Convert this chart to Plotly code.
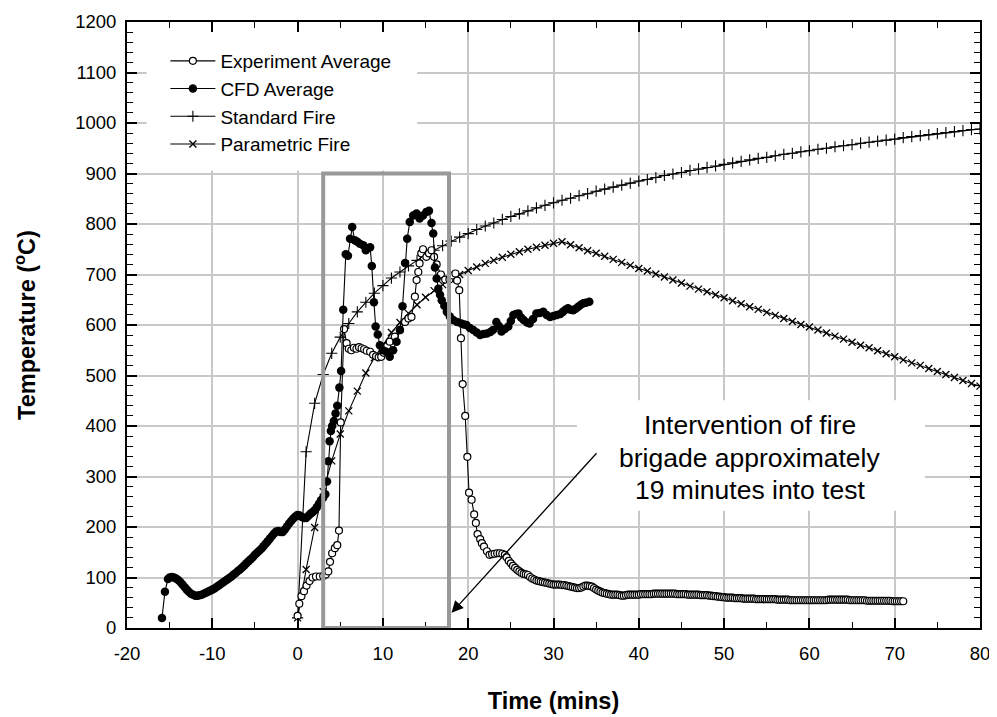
import plotly.graph_objects as go

# ---------------- data ----------------
std_time = list(range(0, 81))
std_temp = [20, 349, 445, 502, 544, 576, 603, 626, 645, 663, 678, 693, 705, 717, 728, 739,
            748, 757, 766, 774, 781, 789, 796, 802, 809, 815, 820, 826, 832, 837, 842, 847,
            851, 856, 860, 865, 869, 873, 877, 881, 885, 888, 892, 896, 899, 902, 906, 909,
            912, 915, 918, 921, 924, 927, 930, 932, 935, 938, 940, 943, 945, 948, 950, 953,
            955, 957, 960, 962, 964, 966, 968, 971, 973, 975, 977, 979, 981, 983, 985, 987, 988]

par_time = list(range(0, 81))
par_temp = [20, 116, 199, 270, 331, 384, 430, 469, 505, 535, 561, 585, 605, 623, 640, 655,
            668, 680, 691, 700, 708, 715, 722, 728, 734, 740, 745, 750, 754, 758, 762, 765,
            759, 753, 747, 742, 736, 730, 724, 718, 712, 707, 701, 695, 689, 683, 677, 671,
            666, 660, 654, 648, 642, 636, 631, 625, 619, 613, 607, 601, 596, 590, 584, 578,
            572, 566, 560, 555, 549, 543, 537, 531, 525, 520, 514, 508, 502, 496, 490, 484, 479]

# CFD: first three readings, then one every quarter minute from -15 to 3 min, then the fire phase
cfd_temp_start = [20, 72, 97]
cfd_time_start = [-15.9, -15.55, -15.2]
cfd_temp_pre = [100, 101, 100, 98, 95, 91, 86, 81,
                76, 72, 68, 66, 64, 64, 65, 66,
                68, 70, 72, 74, 76, 78, 81, 84,
                87, 90, 93, 96, 99, 102, 106, 109,
                113, 116, 120, 124, 128, 132, 136, 140,
                145, 149, 153, 157, 162, 167, 172, 177,
                182, 187, 191, 192, 190, 190, 195, 201,
                207, 212, 217, 221, 224, 223, 220, 218,
                218, 222, 226, 229, 233, 239, 246, 253,
                258]
cfd_time_pre = [-15.0 + 0.25 * i for i in range(len(cfd_temp_pre))]
cfd_time_fire = [3.25, 3.45, 3.6, 3.75, 3.9, 4.05, 4.25, 4.45, 4.65, 4.9,
                 5.1, 5.35, 5.65, 5.9, 6.15, 6.4, 6.7, 7.0, 7.3, 7.7, 8.0, 8.2, 8.5, 8.7, 8.95, 9.15,
                 9.4, 9.65, 10.0, 10.4, 10.8, 11.2, 11.6, 12.0, 12.3, 12.6, 12.85, 13.15, 13.55, 13.95,
                 14.3, 14.7, 15.1, 15.4, 15.7, 15.9, 16.1, 16.3, 16.5, 16.7, 16.9, 17.2, 17.5, 17.85,
                 18.25, 18.7, 19.2, 19.5, 19.8, 20.2, 20.6, 21.0, 21.4, 21.8, 22.2, 22.6, 22.9, 23.3,
                 23.6, 23.9, 24.3, 24.7, 25.0, 25.3, 25.6, 25.9, 26.2, 26.5, 26.9, 27.2, 27.6, 28.0,
                 28.4, 28.8, 29.2, 29.6, 30.0, 30.4, 30.8, 31.1, 31.4, 31.7, 32.0, 32.3, 32.6, 32.9,
                 33.2, 33.5, 33.8, 34.2]
cfd_temp_fire = [265, 290, 330, 370, 390, 400, 410, 425, 440, 476,
                 509, 630, 740, 737, 771, 794, 768, 765, 761, 758, 748, 752, 754, 717, 645, 597,
                 581, 560, 550, 547, 537, 550, 567, 590, 637, 723, 771, 804, 817, 821,
                 811, 817, 824, 826, 802, 781, 714, 692, 672, 660, 649, 638, 626, 617,
                 610, 606, 603, 601, 600, 594, 590, 585, 580, 582, 583, 586, 590, 606,
                 598, 587, 592, 597, 608, 620, 622, 623, 615, 610, 605, 603, 612, 623,
                 624, 626, 620, 616, 618, 620, 622, 626, 630, 633, 630, 629, 632, 636,
                 640, 643, 644, 646]
cfd_time = cfd_time_start + cfd_time_pre + cfd_time_fire
cfd_temp = cfd_temp_start + cfd_temp_pre + cfd_temp_fire

exp_time_early = [0.0, 0.2, 0.45, 0.75, 1.05, 1.4, 1.75, 2.15, 2.6, 3.0, 3.3, 3.6, 3.8, 4.05,
                  4.37, 4.65, 4.85, 5.05, 5.45, 5.75, 6.0, 6.3, 6.6, 6.9, 7.2, 7.5, 7.8, 8.1,
                  8.5, 8.85, 9.2, 9.5, 9.8, 10.1, 10.5, 10.8, 11.4, 12.0, 12.6, 13.0, 13.35,
                  13.75, 13.95, 14.15, 14.3, 14.5, 14.7, 15.1, 15.4, 15.7, 16.0, 16.3, 16.8,
                  17.3, 17.8, 18.2, 18.5, 18.7, 18.95, 19.15, 19.35, 19.65, 19.9, 20.1, 20.4,
                  20.7, 20.9, 21.1, 21.4, 21.6, 21.85, 22.2, 22.5, 22.8, 23.1, 23.4, 23.7,
                  24.0, 24.3]
exp_temp_early = [24, 48, 63, 73, 84, 93, 100, 102, 102, 103, 106, 112, 131, 148,
                  158, 164, 193, 407, 592, 564, 553, 550, 555, 553, 556, 554, 552, 549,
                  547, 541, 538, 536, 537, 545, 558, 567, 577, 590, 606, 613, 616,
                  656, 689, 705, 722, 742, 750, 735, 742, 748, 735, 720, 700,
                  690, 690, 698, 702, 688, 669, 574, 483, 420, 339, 268, 254,
                  225, 208, 186, 176, 168, 161, 152, 145, 146, 147, 148, 148,
                  147, 145]
# tail, one reading every quarter minute from 24.5 to 71 min
exp_temp_tail = [140, 133, 128, 123, 119, 115, 112, 109,
                 107, 106, 105, 101, 98, 96, 94, 93,
                 92, 91, 90, 89, 88, 87, 86, 86,
                 86, 86, 85, 85, 84, 83, 82, 81,
                 80, 79, 79, 80, 82, 84, 84, 83,
                 82, 79, 76, 74, 72, 70, 69, 68,
                 67, 66, 66, 66, 66, 65, 64, 64,
                 65, 66, 66, 66, 66, 66, 66, 67,
                 67, 67, 67, 67, 67, 68, 68, 68,
                 68, 68, 68, 68, 68, 68, 68, 68,
                 67, 67, 67, 67, 67, 66, 66, 66,
                 66, 66, 66, 65, 65, 65, 65, 64,
                 64, 63, 63, 62, 62, 61, 61, 60,
                 60, 60, 60, 59, 59, 59, 59, 58,
                 58, 58, 58, 58, 58, 57, 57, 57,
                 57, 57, 57, 57, 57, 57, 57, 56,
                 56, 56, 56, 56, 56, 55, 55, 55,
                 55, 55, 55, 55, 55, 55, 55, 55,
                 55, 55, 55, 55, 55, 55, 55, 56,
                 56, 56, 56, 56, 56, 56, 56, 56,
                 56, 55, 55, 55, 55, 55, 55, 55,
                 55, 54, 54, 54, 54, 54, 54, 54,
                 54, 54, 54, 54, 54, 53, 53, 53,
                 53, 53, 53]
exp_time_tail = [24.5 + 0.25 * i for i in range(len(exp_temp_tail))]
exp_time = exp_time_early + exp_time_tail
exp_temp = exp_temp_early + exp_temp_tail

x_ticks = [-20, -10, 0, 10, 20, 30, 40, 50, 60, 70, 80]
y_ticks = list(range(0, 1201, 100))

note_lines = ["Intervention of fire", "brigade approximately", "19 minutes into test"]
note_y = [402, 337, 273]

FONT = "Liberation Sans, Arial, sans-serif"

fig = go.Figure()

fig.add_trace(go.Scatter(
    x=std_time, y=std_temp, name="Standard Fire", mode="lines+markers", legendrank=3,
    line=dict(color="black", width=1.1),
    marker=dict(symbol="cross-thin", size=8, line=dict(color="black", width=1.1)),
))
fig.add_trace(go.Scatter(
    x=par_time, y=par_temp, name="Parametric Fire", mode="lines+markers", legendrank=4,
    line=dict(color="black", width=1.1),
    marker=dict(symbol="x-thin", size=7, line=dict(color="black", width=1.3)),
))
fig.add_trace(go.Scatter(
    x=exp_time, y=exp_temp, name="Experiment Average", mode="lines+markers", legendrank=1,
    line=dict(color="black", width=1.1),
    marker=dict(symbol="circle", size=7, color="white", line=dict(color="black", width=1.2)),
))
fig.add_trace(go.Scatter(
    x=cfd_time, y=cfd_temp, name="CFD Average", mode="lines+markers", legendrank=2,
    line=dict(color="black", width=1.1),
    marker=dict(symbol="circle", size=8.5, color="black", line=dict(color="black", width=0)),
))

# white patches that interrupt the grid behind the legend and the text box
fig.add_shape(type="rect", x0=-17.7, x1=14.0, y0=906, y1=1200, layer="between",
              fillcolor="white", line=dict(width=0))
fig.add_shape(type="rect", x0=32.75, x1=73.55, y0=232, y1=451, layer="between",
              fillcolor="white", line=dict(width=0))
# grey highlight box
fig.add_shape(type="rect", x0=3, x1=17.75, y0=0, y1=900, layer="above",
              fillcolor="rgba(0,0,0,0)", line=dict(color="#999999", width=4))

for txt, yy in zip(note_lines, note_y):
    fig.add_annotation(
        x=53.0, y=yy, xref="x", yref="y", showarrow=False, text=txt,
        font=dict(family=FONT, size=26.5, color="black"), xanchor="center", yanchor="middle",
    )
fig.add_annotation(
    x=18.05, y=30, ax=35.2, ay=349, xref="x", yref="y", axref="x", ayref="y",
    text="", showarrow=True, arrowhead=2, arrowsize=1.8, arrowwidth=1.3, arrowcolor="black",
)

axis_common = dict(
    showline=True, linecolor="black", linewidth=2, mirror="ticks",
    ticks="inside", ticklen=10, tickwidth=1.5, tickcolor="black",
    showgrid=True, gridcolor="#c8c8c8", gridwidth=1.5, zeroline=False,
    tickfont=dict(family=FONT, size=18.5, color="black"),
    ticklabeloverflow="allow",
)

fig.update_xaxes(
    range=[-20, 80], tickvals=x_ticks, ticktext=[str(v) for v in x_ticks],
    ticklabelstandoff=8,
    minor=dict(ticks="inside", ticklen=6, tickwidth=1.2, tickcolor="black", dtick=5, showgrid=False),
    title=dict(text="<b>Time (mins)</b>", font=dict(family=FONT, size=23.5, color="black"), standoff=29),
    **axis_common,
)
fig.update_yaxes(
    range=[0, 1200], tickvals=y_ticks, ticktext=[str(v) for v in y_ticks],
    ticklabelstandoff=5,
    minor=dict(ticks="inside", ticklen=6, tickwidth=1.2, tickcolor="black", dtick=20, showgrid=False),
    title=dict(text="<b>Temperature (<sup>o</sup>C)</b>", font=dict(family=FONT, size=23.5, color="black"), standoff=33),
    **axis_common,
)

# the page adds an 8 px body margin, so margins are shifted to keep the plot area in place
fig.update_layout(
    width=997, height=717,
    margin=dict(l=119, r=25, t=14, b=97, autoexpand=False),
    paper_bgcolor="white", plot_bgcolor="white",
    showlegend=True,
    legend=dict(
        x=0.045, y=0.967, xanchor="left", yanchor="top",
        bgcolor="rgba(0,0,0,0)", borderwidth=0,
        font=dict(family=FONT, size=19, color="black"),
        itemwidth=45, tracegroupgap=0,
    ),
)

fig.write_html("out.html")
